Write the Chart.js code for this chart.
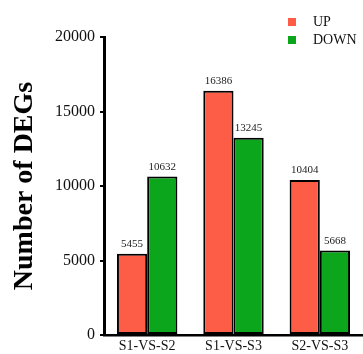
<!DOCTYPE html>
<html lang="en">
<head>
    <meta charset="UTF-8">
    <title>DEGs</title>
    <style>
        body { margin: 0; background: #fff; }
    </style>
</head>
<body>
    <canvas id="myChart" width="363" height="354"></canvas>

    <script src="https://cdn.jsdelivr.net/npm/chart.js"></script>

    <script>
        const categories = ['S1-VS-S2', 'S1-VS-S3', 'S2-VS-S3']
        const upValues = [5455, 16386, 10404]
        const downValues = [10632, 13245, 5668]
        const yTicks = [0, 5000, 10000, 15000, 20000]

        const serif = "'Liberation Serif', 'Times New Roman', serif"

        // numbers above the bars
        const valueLabels = {
            id: 'valueLabels',
            afterDatasetsDraw(chart) {
                const ctx = chart.ctx
                ctx.save()
                ctx.font = `11px ${serif}`
                ctx.fillStyle = '#222'
                ctx.textAlign = 'center'
                ctx.textBaseline = 'bottom'
                chart.data.datasets.forEach((ds, i) => {
                    chart.getDatasetMeta(i).data.forEach((bar, j) => {
                        ctx.fillText(ds.data[j], bar.x, bar.y - 4)
                    })
                })
                ctx.restore()
            }
        }

        // vertical legend at the top right
        const sideLegend = {
            id: 'sideLegend',
            afterDraw(chart) {
                const ctx = chart.ctx
                ctx.save()
                ctx.font = `14px ${serif}`
                ctx.textBaseline = 'middle'
                chart.data.datasets.forEach((ds, i) => {
                    const y = 22 + i * 18
                    ctx.fillStyle = ds.backgroundColor
                    ctx.fillRect(288, y - 4, 8, 8)
                    ctx.fillStyle = '#111'
                    ctx.fillText(ds.label, 313, y)
                })
                ctx.restore()
            }
        }

        new Chart(document.getElementById('myChart'), {
            type: 'bar',
            data: {
                labels: categories,
                datasets: [{
                    label: 'UP',
                    data: upValues,
                    backgroundColor: '#fd5c47',
                    borderColor: '#000',
                    borderWidth: 2,
                    borderSkipped: false
                }, {
                    label: 'DOWN',
                    data: downValues,
                    backgroundColor: '#0ba61b',
                    borderColor: '#000',
                    borderWidth: 2,
                    borderSkipped: false
                }]
            },
            options: {
                responsive: false,
                animation: false,
                layout: { padding: { top: 37, right: 0, left: 0, bottom: 0 } },
                datasets: { bar: { categoryPercentage: 0.7, barPercentage: 1 } },
                scales: {
                    x: {
                        grid: { display: false, drawTicks: false },
                        border: { color: '#000', width: 2.5 },
                        ticks: { color: '#111', font: { family: serif, size: 14 }, padding: 3 },
                        afterFit(scale) { scale.height = 19 }
                    },
                    y: {
                        min: 0,
                        max: 20000,
                        afterBuildTicks(scale) { scale.ticks = yTicks.map(v => ({ value: v })) },
                        grid: { drawOnChartArea: false, color: '#000', lineWidth: 2, tickLength: 4 },
                        border: { color: '#000', width: 3 },
                        ticks: {
                            color: '#111',
                            font: { family: serif, size: 16 },
                            padding: 5,
                            callback: v => String(v)
                        },
                        title: {
                            display: true,
                            text: 'Number of DEGs',
                            color: '#000',
                            font: { family: serif, size: 28, weight: 'bold' },
                            padding: { top: 8, bottom: 0 }
                        },
                        afterFit(scale) { scale.width = 104 }
                    }
                },
                plugins: {
                    legend: { display: false },
                    tooltip: { enabled: false }
                }
            },
            plugins: [valueLabels, sideLegend]
        })
    </script>
</body>
</html>
